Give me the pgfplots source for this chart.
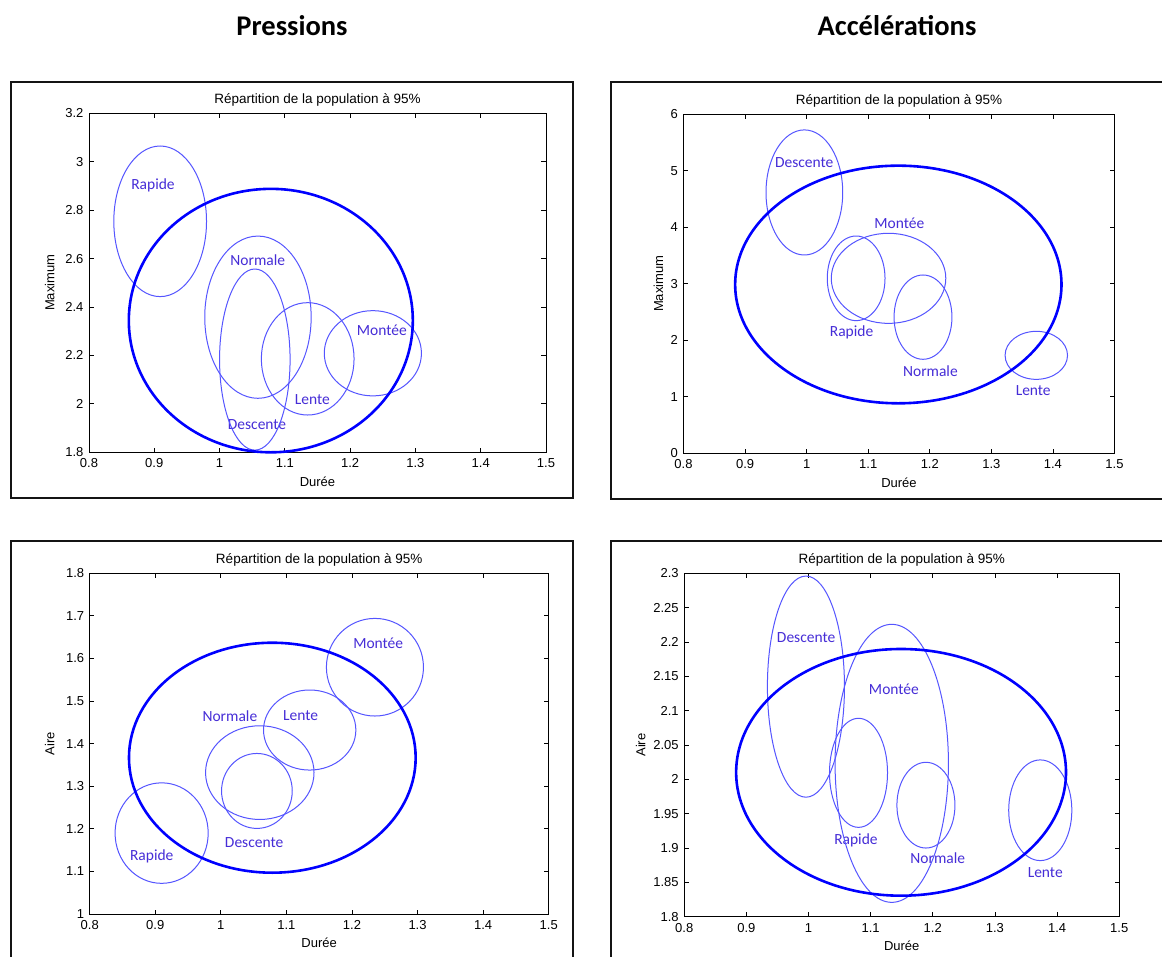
\documentclass[border=0pt]{standalone}
\usepackage{fontspec}
\setmainfont{Liberation Sans}
\newfontfamily\calibri{Carlito}
\usepackage{pgfplots}
\pgfplotsset{compat=1.18}
\definecolor{bigblue}{RGB}{0,0,255}
\definecolor{smallblue}{RGB}{85,85,255}
\definecolor{lblcol}{RGB}{70,45,215}
\definecolor{framecol}{RGB}{20,20,20}
\pgfdeclareplotmark{nothing}{}
\pgfplotsset{
  matlab/.style={
    scale only axis, anchor=south west,
    xmin=0.8, xmax=1.5,
    xtick={0.8,0.9,1,1.1,1.2,1.3,1.4,1.5},
    tick align=inside, major tick length=4.5pt,
    axis line style={line width=0.9pt},
    every tick/.style={black, line width=0.8pt},
    /pgf/number format/assume math mode=true,
    tick label style={font=\fontsize{13}{14}\selectfont},
    xticklabel style={yshift=-3pt},
    yticklabel style={xshift=-2pt},
    label style={font=\fontsize{13}{15}\selectfont},
    xlabel style={at={([yshift=-29pt]axis description cs:0.5,0)}, anchor=center},
    every axis title shift=0pt,
    title style={at={([yshift=9.7pt]axis description cs:0.5,1)}, anchor=base, font=\fontsize{13.5}{15}\selectfont},
    title={Répartition de la population à 95\%},
    xlabel={Durée},
    clip=false,
  },
  ell/.style n args={4}{%
    scatter, only marks, mark=nothing,
    visualization depends on={\thisrow{rx}*#1 \as \erx},
    visualization depends on={\thisrow{ry}*#2 \as \ery},
    scatter/@pre marker code/.code={%
      \pgfscope
      \pgfsetlinewidth{#4}\pgfsetstrokecolor{#3}%
      \pgfpathellipse{\pgfpointorigin}{\pgfpoint{\erx pt}{0pt}}{\pgfpoint{0pt}{\ery pt}}%
      \pgfusepath{stroke}%
      \endpgfscope},
    scatter/@post marker code/.code={},
  },
}
\tikzset{lbl/.style={font=\calibri\fontsize{15.5}{17}\selectfont, text=lblcol, anchor=center, inner sep=0pt}}
\begin{document}
\begin{tikzpicture}
\useasboundingbox (0pt,0pt) rectangle (1162pt,-956pt);
\fill[white] (0pt,0pt) rectangle (1162pt,-956pt);
% frames
\draw[line width=2pt, framecol] (10.5pt,-81.5pt) rectangle (572.5pt,-498pt);
\draw[line width=2pt, framecol] (610.5pt,-81.5pt) rectangle (1166pt,-498.5pt);
\draw[line width=2pt, framecol] (10.5pt,-541pt) rectangle (572.5pt,-962pt);
\draw[line width=2pt, framecol] (610.5pt,-541pt) rectangle (1166pt,-962pt);
% column titles
\node[anchor=base, font=\calibri\bfseries\fontsize{28.5}{30}\selectfont] at (292pt,-35.5pt) {Pressions};
\node[anchor=base, font=\calibri\bfseries\fontsize{28.5}{30}\selectfont] at (897pt,-35.5pt) {Accélérations};

% ---- Pressions / Maximum
\begin{axis}[matlab, at={(89pt,-452.3pt)}, width=457pt, height=339pt,
  ymin=1.8, ymax=3.2, ytick={1.8,2,2.2,2.4,2.6,2.8,3,3.2},
  ylabel={Maximum}, ylabel style={at={([xshift=-39.3pt]axis description cs:0,0.5)}, anchor=center}]
\addplot[ell={652.86}{242.14}{smallblue}{1pt}] table {
x y rx ry
0.909 2.754 0.071 0.311
1.0588 2.358 0.0815 0.335
1.054 2.183 0.054 0.374
1.135 2.186 0.071 0.232
1.2348 2.209 0.0744 0.176
};
\addplot[ell={652.86}{242.14}{bigblue}{2.6pt}] table {
x y rx ry
1.0785 2.344 0.2175 0.544
};
\node[lbl] at (axis cs:0.898,2.901) {Rapide};
\node[lbl] at (axis cs:1.0585,2.594) {Normale};
\node[lbl] at (axis cs:1.0574,1.916) {Descente};
\node[lbl] at (axis cs:1.142,2.019) {Lente};
\node[lbl] at (axis cs:1.2485,2.302) {Montée};
\end{axis}

% ---- Accelerations / Maximum
\begin{axis}[matlab, at={(683.5pt,-453.3pt)}, width=431pt, height=339pt,
  ymin=0, ymax=6, ytick={0,1,2,3,4,5,6},
  ylabel={Maximum}, ylabel style={at={([xshift=-25pt]axis description cs:0,0.5)}, anchor=center}]
\addplot[ell={615.71}{56.5}{smallblue}{1pt}] table {
x y rx ry
0.9963 4.617 0.0623 1.107
1.0804 3.097 0.0469 0.749
1.133 3.097 0.093 0.797
1.189 2.41 0.047 0.746
1.373 1.734 0.0507 0.425
};
\addplot[ell={615.71}{56.5}{bigblue}{2.6pt}] table {
x y rx ry
1.1489 2.988 0.265 2.103
};
\node[lbl] at (axis cs:0.996,5.145) {Descente};
\node[lbl] at (axis cs:1.1506,4.08) {Montée};
\node[lbl] at (axis cs:1.073,2.141) {Rapide};
\node[lbl] at (axis cs:1.201,1.445) {Normale};
\node[lbl] at (axis cs:1.368,1.109) {Lente};
\end{axis}

% ---- Pressions / Aire
\begin{axis}[matlab, at={(89.7pt,-914pt)}, width=459pt, height=340.7pt,
  ymin=1, ymax=1.8, ytick={1,1.1,1.2,1.3,1.4,1.5,1.6,1.7,1.8},
  ylabel={Aire}, ylabel style={at={([xshift=-40pt]axis description cs:0,0.5)}, anchor=center}]
\addplot[ell={655.71}{425.875}{smallblue}{1pt}] table {
x y rx ry
1.235 1.5795 0.074 0.1146
1.1355 1.432 0.0704 0.094
1.0594 1.332 0.0827 0.110
1.055 1.289 0.0539 0.088
0.9097 1.19 0.071 0.118
};
\addplot[ell={655.71}{425.875}{bigblue}{2.6pt}] table {
x y rx ry
1.0785 1.367 0.2186 0.270
};
\node[lbl] at (axis cs:1.24,1.6356) {Montée};
\node[lbl] at (axis cs:1.0138,1.465) {Normale};
\node[lbl] at (axis cs:1.1215,1.4664) {Lente};
\node[lbl] at (axis cs:1.0508,1.1673) {Descente};
\node[lbl] at (axis cs:0.8946,1.1344) {Rapide};
\end{axis}

% ---- Accelerations / Aire
\begin{axis}[matlab, at={(684.2pt,-916.7pt)}, width=435pt, height=343.4pt,
  ymin=1.8, ymax=2.3, ytick={1.8,1.85,1.9,1.95,2,2.05,2.1,2.15,2.2,2.25,2.3},
  ylabel={Aire}, ylabel style={at={([xshift=-43.5pt]axis description cs:0,0.5)}, anchor=center}]
\addplot[ell={621.43}{686.8}{smallblue}{1pt}] table {
x y rx ry
0.9959 2.135 0.062 0.161
1.134 2.0233 0.0912 0.2024
1.0805 2.0095 0.0467 0.0794
1.189 1.9624 0.0467 0.0624
1.373 1.955 0.0508 0.0733
};
\addplot[ell={621.43}{686.8}{bigblue}{2.6pt}] table {
x y rx ry
1.149 2.0102 0.2654 0.1796
};
\node[lbl] at (axis cs:0.9962,2.2063) {Descente};
\node[lbl] at (axis cs:1.1375,2.1316) {Montée};
\node[lbl] at (axis cs:1.0764,1.9117) {Rapide};
\node[lbl] at (axis cs:1.208,1.885) {Normale};
\node[lbl] at (axis cs:1.381,1.8646) {Lente};
\end{axis}
\end{tikzpicture}
\end{document}
